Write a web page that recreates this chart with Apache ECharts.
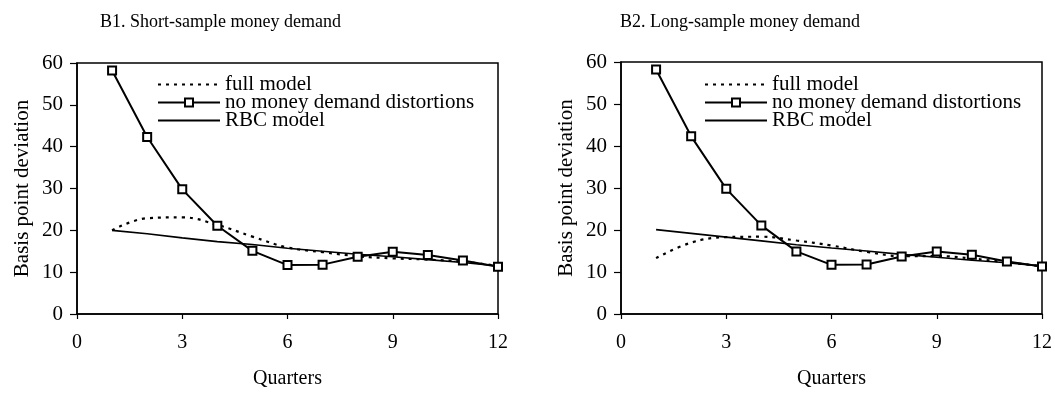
<!DOCTYPE html>
<html>
<head>
<meta charset="utf-8">
<script src="https://cdn.jsdelivr.net/npm/echarts@6/dist/echarts.min.js"></script>
<style>
  html, body { margin: 0; padding: 0; background: #fff; }
  #main { width: 1055px; height: 394px; }
</style>
</head>
<body>
<div id="main"></div>
<script>
  // quarters after the shock
  var quarters = [1, 2, 3, 4, 5, 6, 7, 8, 9, 10, 11, 12];
  var xTicks = [0, 3, 6, 9, 12];
  var yTicks = [0, 10, 20, 30, 40, 50, 60];

  // B1. short sample
  var fullShort = [20, 22.9, 23.1, 21.3, 18.5, 15.9, 14.8, 13.8, 13.3, 13.0, 12.5, 11.5];
  var noMoneyShort = [58.2, 42.3, 29.8, 21.1, 15.1, 11.7, 11.8, 13.7, 14.9, 14.1, 12.8, 11.3];
  var rbcShort = [20, 19.2, 18.2, 17.3, 16.6, 15.7, 15.0, 14.3, 13.7, 13.0, 12.3, 11.5];

  // B2. long sample
  var fullLong = [13.3, 17.0, 18.3, 18.4, 17.5, 16.3, 14.8, 13.8, 13.8, 13.2, 12.3, 11.4];
  var noMoneyLong = [58.2, 42.3, 29.8, 21.1, 14.9, 11.7, 11.8, 13.7, 14.9, 14.1, 12.5, 11.3];
  var rbcLong = [20.1, 19.2, 18.3, 17.4, 16.5, 15.7, 15.0, 14.2, 13.5, 12.8, 12.2, 11.4];

  var names = ['full model', 'no money demand distortions', 'RBC model'];
  var font = 'Liberation Serif';

  function pairs(ys) {
    return quarters.map(function(q, i) { return [q, ys[i]]; });
  }

  function xAxis(idx) {
    return {
      type: 'value', gridIndex: idx, min: xTicks[0], max: xTicks[xTicks.length - 1], interval: 3,
      name: 'Quarters', nameLocation: 'middle', nameGap: 55,
      nameTextStyle: { fontFamily: font, fontSize: 20, color: '#000' },
      axisLine: { lineStyle: { color: '#000', width: 1.5 } },
      axisTick: { length: 5, lineStyle: { color: '#000', width: 1.2 } },
      axisLabel: { fontFamily: font, fontSize: 20, color: '#000', margin: 19 },
      splitLine: { show: false }
    };
  }

  function yAxis(idx) {
    return {
      type: 'value', gridIndex: idx, min: yTicks[0], max: yTicks[yTicks.length - 1], interval: 10,
      name: 'Basis point deviation', nameLocation: 'middle', nameGap: 44,
      nameTextStyle: { fontFamily: font, fontSize: 21, color: '#000' },
      axisLine: { show: true, lineStyle: { color: '#000', width: 1.5 } },
      axisTick: { show: true, length: 7, lineStyle: { color: '#000', width: 1.2 } },
      axisLabel: { fontFamily: font, fontSize: 21, color: '#000', margin: 14 },
      splitLine: { show: false }
    };
  }

  function seriesFor(idx, full, noMoney, rbc) {
    return [{
      name: names[0], type: 'line', xAxisIndex: idx, yAxisIndex: idx,
      data: pairs(full), smooth: 0.4, symbol: 'none',
      lineStyle: { color: '#000', width: 2.2, type: [3, 5] },
      itemStyle: { color: '#000' }
    }, {
      name: names[1], type: 'line', xAxisIndex: idx, yAxisIndex: idx, z: 5,
      data: pairs(noMoney), symbol: 'emptyRect', symbolSize: 8,
      lineStyle: { color: '#000', width: 2 },
      itemStyle: { color: '#000', borderColor: '#000', borderWidth: 1.6 }
    }, {
      name: names[2], type: 'line', xAxisIndex: idx, yAxisIndex: idx,
      data: pairs(rbc), symbol: 'none',
      lineStyle: { color: '#000', width: 1.6 },
      itemStyle: { color: '#000' }
    }];
  }

  // lines without markers get an invisible legend symbol
  var hidden = { color: 'rgba(0,0,0,0)', borderColor: 'rgba(0,0,0,0)', borderWidth: 0 };

  function legend(left) {
    return {
      data: [
        { name: names[0], itemStyle: hidden },
        { name: names[1] },
        { name: names[2], itemStyle: hidden }
      ],
      orient: 'vertical', left: left, top: 74, padding: 0,
      itemWidth: 62, itemHeight: 10, itemGap: -3, selectedMode: false,
      textStyle: { fontFamily: font, fontSize: 21, color: '#000' }
    };
  }

  var chart = echarts.init(document.getElementById('main'));
  chart.setOption({
    animation: false,
    backgroundColor: '#fff',
    title: [
      { text: 'B1. Short-sample money demand', left: 100, top: 13, padding: 0,
        textStyle: { fontFamily: font, fontSize: 18, fontWeight: 'normal', color: '#000' } },
      { text: 'B2. Long-sample money demand', left: 620, top: 13, padding: 0,
        textStyle: { fontFamily: font, fontSize: 18, fontWeight: 'normal', color: '#000' } }
    ],
    legend: [legend(157), legend(704)],
    grid: [
      { left: 77, right: 557, top: 63, bottom: 78, show: true, borderColor: '#000', borderWidth: 1.5 },
      { left: 621, right: 13, top: 62, bottom: 78, show: true, borderColor: '#000', borderWidth: 1.5 }
    ],
    xAxis: [xAxis(0), xAxis(1)],
    yAxis: [yAxis(0), yAxis(1)],
    series: seriesFor(0, fullShort, noMoneyShort, rbcShort)
      .concat(seriesFor(1, fullLong, noMoneyLong, rbcLong))
  });
</script>
</body>
</html>
